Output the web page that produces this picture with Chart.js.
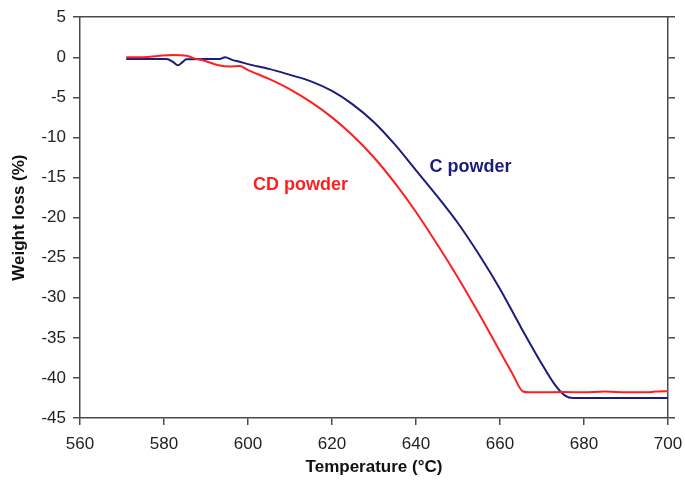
<!DOCTYPE html>
<html lang="en">
<head>
    <meta charset="UTF-8">
    <title>Weight loss vs temperature</title>
    <script src="https://cdn.jsdelivr.net/npm/chart.js"></script>
    <style>
        html, body { margin: 0; padding: 0; background: #fff; }
        #wrap { width: 685px; height: 481px; }
    </style>
</head>
<body>
<div id="wrap"><canvas id="tgaChart" width="685" height="481"></canvas></div>

<script>
// CD powder curve (temperature °C, weight loss %)
var cdTemp   = [571, 575, 578.5, 582, 585.4, 587, 590, 593, 595.6, 598, 600, 605, 610, 615, 620, 625, 630, 635, 640, 645, 650, 655, 660, 663, 665.5, 667, 670, 675, 680, 685, 690, 695, 697, 700];
var cdWeight = [0, 0, 0.15, 0.3, 0.2, -0.1, -0.5, -1.0, -1.15, -1.1, -1.6, -2.7, -4.0, -5.6, -7.5, -9.8, -12.5, -15.7, -19.3, -23.3, -27.5, -32.0, -36.7, -39.5, -41.7, -41.8, -41.8, -41.75, -41.8, -41.7, -41.8, -41.8, -41.7, -41.65];

// C powder curve
var cTemp   = [571, 576, 580.6, 582.2, 583.3, 584.4, 585.3, 590, 593.3, 594.5, 596.4, 598, 600, 605, 610, 615, 620, 625, 630, 635, 640, 645, 650, 655, 660, 665, 670, 673, 675.5, 677.4, 680, 690, 700];
var cWeight = [-0.2, -0.2, -0.2, -0.6, -1.0, -0.6, -0.25, -0.2, -0.2, 0.0, -0.35, -0.55, -0.85, -1.45, -2.2, -3.0, -4.2, -5.9, -8.1, -10.9, -14.1, -17.3, -20.7, -24.6, -28.9, -33.7, -38.3, -40.8, -42.2, -42.5, -42.5, -42.5, -42.5];

// axis ranges
var xMin = 560, xMax = 700, xStep = 20;
var yMin = -45, yMax = 5, yStep = 5;

// curve labels, placed in data coordinates
var curveLabels = [
    { text: "CD powder", x: 612.5, y: -15.9, color: "#ff1f1f" },
    { text: "C powder",  x: 653,   y: -13.75, color: "#1c1c7c" }
];

function toPoints(xs, ys) {
    return xs.map(function (x, i) { return { x: x, y: ys[i] }; });
}

var axisColor = "#4a4a4a";
var fontFamily = "'Liberation Sans', Arial, sans-serif";

// draws the text labels next to the curves
var curveLabelPlugin = {
    id: "curveLabels",
    afterDatasetsDraw: function (chart) {
        var ctx = chart.ctx;
        var xs = chart.scales.x, ys = chart.scales.y;
        ctx.save();
        ctx.font = "bold 18px " + fontFamily;
        ctx.textAlign = "center";
        ctx.textBaseline = "middle";
        curveLabels.forEach(function (l) {
            ctx.fillStyle = l.color;
            ctx.fillText(l.text, xs.getPixelForValue(l.x), ys.getPixelForValue(l.y));
        });
        ctx.restore();
    }
};

var ctx = document.getElementById("tgaChart").getContext("2d");
new Chart(ctx, {
    type: "line",
    data: {
        datasets: [{
            label: "CD powder",
            data: toPoints(cdTemp, cdWeight),
            borderColor: "#ff1f1f",
            borderWidth: 2,
            pointRadius: 0,
            cubicInterpolationMode: "monotone",
            fill: false
        }, {
            label: "C powder",
            data: toPoints(cTemp, cWeight),
            borderColor: "#1c1c7c",
            borderWidth: 2,
            pointRadius: 0,
            cubicInterpolationMode: "monotone",
            fill: false
        }]
    },
    options: {
        responsive: false,
        animation: false,
        devicePixelRatio: 1,
        layout: { padding: { left: 0, right: 10, top: 14, bottom: 0 } },
        plugins: {
            legend: { display: false },
            tooltip: { enabled: false }
        },
        scales: {
            x: {
                type: "linear",
                position: "bottom",
                min: xMin, max: xMax,
                ticks: { stepSize: xStep, color: "#222", padding: 9, maxRotation: 0,
                         font: { family: fontFamily, size: 17 } },
                grid: { drawOnChartArea: false, drawTicks: true, tickLength: 7, color: axisColor, lineWidth: 1.5 },
                border: { display: true, color: axisColor, width: 1.5 },
                title: { display: true, text: "Temperature (°C)", color: "#111",
                         font: { family: fontFamily, size: 17, weight: "bold" },
                         padding: { top: 2, bottom: 3 } },
                afterFit: function (s) { s.height = 63; s.paddingRight = 0; s.paddingLeft = 0; }
            },
            xTop: {
                type: "linear",
                position: "top",
                min: xMin, max: xMax,
                ticks: { display: false },
                grid: { display: false, drawTicks: false },
                border: { display: true, color: axisColor, width: 1.5 },
                afterFit: function (s) { s.height = 0; s.paddingRight = 0; s.paddingLeft = 0; }
            },
            y: {
                type: "linear",
                position: "left",
                min: yMin, max: yMax,
                ticks: { stepSize: yStep, color: "#222", padding: 7,
                         font: { family: fontFamily, size: 17 } },
                grid: { drawOnChartArea: false, drawTicks: true, tickLength: 7, color: axisColor, lineWidth: 1.5 },
                border: { display: true, color: axisColor, width: 1.5 },
                title: { display: true, text: "Weight loss (%)", color: "#111",
                         font: { family: fontFamily, size: 17, weight: "bold" },
                         padding: { top: 9, bottom: 10 } },
                afterFit: function (s) { s.width = 80; }
            },
            yRight: {
                type: "linear",
                position: "right",
                min: yMin, max: yMax,
                ticks: { display: false, stepSize: yStep },
                grid: { drawOnChartArea: false, drawTicks: true, tickLength: 7, color: axisColor, lineWidth: 1.5 },
                border: { display: true, color: axisColor, width: 1.5 },
                afterFit: function (s) { s.width = 7; }
            }
        }
    },
    plugins: [curveLabelPlugin]
});
</script>
</body>
</html>
